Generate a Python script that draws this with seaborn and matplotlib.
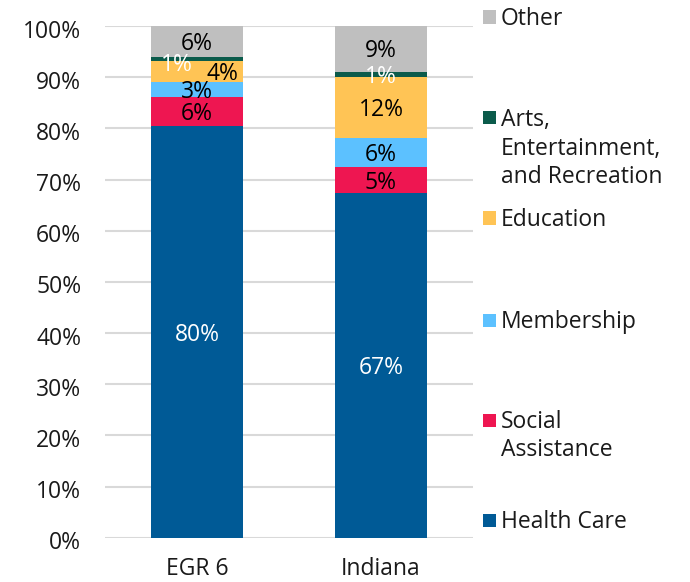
import matplotlib
matplotlib.use("Agg")
import matplotlib.pyplot as plt
import matplotlib.patches as mpatches
import matplotlib.transforms as mtransforms
import numpy as np
import pandas as pd
import seaborn as sns

# --- Data (share of employment, %) ---
regions    = ["EGR 6", "Indiana"]
categories = ["Health Care", "Social Assistance", "Membership",
              "Education", "Arts, Entertainment, and Recreation", "Other"]
health     = [80.4, 67.4]
social     = [5.8, 5.0]
membership = [2.9, 5.8]
education  = [4.1, 11.8]
arts       = [0.8, 1.1]
other      = [6.0, 8.9]
labels_egr = ["80%", "6%", "3%", "4%", "1%", "6%"]
labels_ind = ["67%", "5%", "6%", "12%", "1%", "9%"]

colors = ["#005A96", "#EE1651", "#5CC1FF", "#FFC455", "#0B5B4B", "#BFBFBF"]
text_colors = ["white", "black", "black", "black", "white", "black"]
legend_lines = [["Health Care"], ["Social", "Assistance"], ["Membership"],
                ["Education"], ["Arts,", "Entertainment,", "and Recreation"],
                ["Other"]]

sns.set_theme(style="white")
plt.rcParams["font.family"] = ["Open Sans", "DejaVu Sans"]
FS = 16.5

vals = np.array([health, social, membership, education, arts, other])
cum = vals.cumsum(axis=0)
df = pd.DataFrame(cum.T, columns=categories)
df["region"] = regions

fig = plt.figure(figsize=(6.9, 5.82), dpi=100)
ax = fig.add_axes([0.152, 0.0761, 0.5335, 0.8792])

# draw from the tallest cumulative stack down so each segment shows
for i in range(len(categories) - 1, -1, -1):
    sns.barplot(data=df, x="region", y=categories[i], color=colors[i],
                width=0.5, errorbar=None, linewidth=0, saturation=1,
                ax=ax, zorder=3)

# segment labels (Open Sans sits a little high with va=center)
shift = mtransforms.ScaledTranslation(0, -2.5 / 100, fig.dpi_scale_trans)
offsets = {(0, 4): (-0.11, -0.8), (0, 3): (0.14, 0.0)}
for j, labs in enumerate([labels_egr, labels_ind]):
    for i in range(len(categories)):
        mid = cum[i, j] - vals[i, j] / 2
        dx, dy = offsets.get((j, i), (0, 0))
        ax.text(j + dx, mid + dy, labs[i], ha="center", va="center",
                color=text_colors[i], fontsize=FS, zorder=5,
                transform=ax.transData + shift)

ax.set_ylim(0, 100)
ax.set_xlim(-0.5, 1.5)
ax.set_yticks(np.arange(0, 101, 10))
ax.set_yticklabels([f"{t}%" for t in range(0, 101, 10)])
ax.yaxis.grid(True, color="#D9D9D9", linewidth=1.5, zorder=0)
ax.set_axisbelow(True)
ax.set_xlabel("")
ax.set_ylabel("")
ax.tick_params(axis="y", length=0, pad=17, labelsize=FS, colors="#1a1a1a")
ax.tick_params(axis="x", length=0, pad=14, labelsize=FS, colors="#1a1a1a")
for lab in ax.get_yticklabels():
    lab.set_transform(lab.get_transform() + shift)
for s in ax.spines.values():
    s.set_visible(False)

# manual legend, top entry first
H = 582.0
legend_y = [520, 420, 320, 218, 118, 17]
for i in range(len(categories)):
    yc = 1 - legend_y[i] / H
    fig.patches.append(mpatches.Rectangle((483 / 690, yc - 6.5 / H), 13 / 690, 13 / H,
                                          transform=fig.transFigure,
                                          color=colors[i], linewidth=0))
    for k, line in enumerate(legend_lines[i]):
        fig.text(501 / 690, yc - k * 28.5 / H - 2 / H, line, ha="left", va="center",
                 fontsize=FS, color="#1a1a1a")

fig.savefig("out.png", dpi=100)
